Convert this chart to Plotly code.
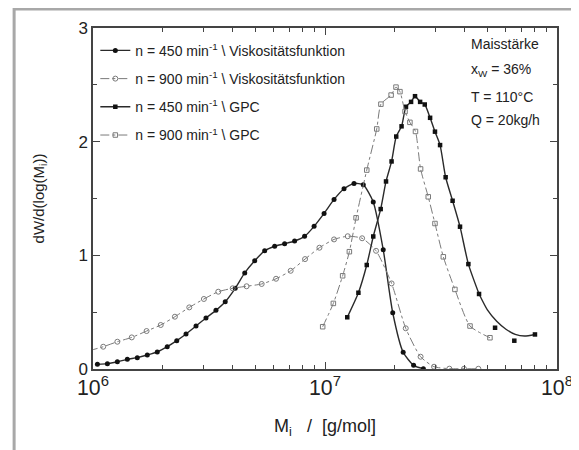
import plotly.graph_objects as go

# log10(M) and dW/dlog(M) values
visk450_logM = [6.019, 6.062, 6.105, 6.148, 6.191, 6.234, 6.277, 6.320, 6.361, 6.401, 6.444, 6.487,
                6.530, 6.570, 6.613, 6.654, 6.697, 6.740, 6.783, 6.826, 6.869, 6.912, 6.953, 6.996,
                7.039, 7.082, 7.125, 7.165, 7.208, 7.251, 7.292, 7.337, 7.382, 7.424]
visk450_w = [0.041, 0.047, 0.064, 0.085, 0.100, 0.123, 0.150, 0.196, 0.249, 0.308, 0.378, 0.449,
             0.516, 0.592, 0.710, 0.845, 0.952, 1.040, 1.080, 1.102, 1.126, 1.167, 1.255, 1.369,
             1.492, 1.586, 1.633, 1.620, 1.470, 1.050, 0.495, 0.147, 0.032, 0.003]

visk900_logM = [5.982, 6.044, 6.105, 6.167, 6.231, 6.292, 6.353, 6.415, 6.478, 6.540, 6.602, 6.662,
                6.727, 6.789, 6.852, 6.914, 6.976, 7.039, 7.098, 7.160, 7.220, 7.287, 7.348, 7.412,
                7.470, 7.536, 7.599, 7.661]
visk900_w = [0.160, 0.196, 0.240, 0.278, 0.334, 0.387, 0.460, 0.542, 0.616, 0.680, 0.710, 0.728,
             0.748, 0.794, 0.864, 0.967, 1.067, 1.140, 1.168, 1.150, 1.040, 0.753, 0.358, 0.108,
             0.020, 0.003, 0.002, 0.002]

# GPC, n = 450: measured points (last three lie off the fitted curve)
gpc450_logM = [7.096, 7.144, 7.180, 7.208, 7.240, 7.263, 7.287, 7.307, 7.330, 7.349, 7.371, 7.388,
               7.410, 7.430, 7.453, 7.474, 7.496, 7.520, 7.550, 7.582, 7.618, 7.664]
gpc450_w = [0.455, 0.671, 0.915, 1.166, 1.407, 1.650, 1.826, 2.045, 2.135, 2.307, 2.350, 2.400,
            2.350, 2.327, 2.210, 2.088, 1.970, 1.687, 1.480, 1.252, 0.923, 0.660]
gpc450_tail_logM = [7.733, 7.816, 7.905]
gpc450_tail_w = [0.363, 0.249, 0.304]
# fitted curve continuing beyond the last regular point
gpc450_fit_logM = [7.664, 7.700, 7.740, 7.780, 7.820, 7.860, 7.905]
gpc450_fit_w = [0.660, 0.520, 0.420, 0.350, 0.305, 0.290, 0.304]

gpc900_logM = [6.990, 7.036, 7.076, 7.105, 7.134, 7.180, 7.223, 7.241, 7.285, 7.306, 7.323, 7.345,
               7.366, 7.390, 7.412, 7.445, 7.474, 7.510, 7.560, 7.625, 7.711]
gpc900_w = [0.372, 0.577, 0.820, 1.032, 1.330, 1.750, 2.112, 2.330, 2.410, 2.480, 2.440, 2.265,
            2.170, 2.090, 1.760, 1.515, 1.280, 0.987, 0.700, 0.378, 0.275]

names = [
    "n = 450 min<sup>-1</sup> \\ Viskositätsfunktion",
    "n = 900 min<sup>-1</sup> \\ Viskositätsfunktion",
    "n = 450 min<sup>-1</sup> \\ GPC",
    "n = 900 min<sup>-1</sup> \\ GPC",
]
info_lines = ["Maisstärke", "x<sub>W</sub> = 36%", "T = 110°C", "Q = 20kg/h"]

FONT = "Liberation Sans, Arial, sans-serif"
SOLID = dict(color="#2a2a2a", width=1.4, shape="spline", smoothing=0.6)
DASHED = dict(color="#7a7a7a", width=1, dash="dashdot", shape="spline", smoothing=0.6)


def M(vals):
    return [10 ** v for v in vals]


fig = go.Figure()
fig.add_trace(go.Scatter(x=M(visk450_logM), y=visk450_w, name=names[0], legendgroup="a",
                         mode="lines+markers", line=SOLID,
                         marker=dict(symbol="circle", size=5, color="#111111")))
fig.add_trace(go.Scatter(x=M(visk900_logM), y=visk900_w, name=names[1], legendgroup="b",
                         mode="lines+markers", line=DASHED,
                         marker=dict(symbol="circle-open", size=5, color="#7a7a7a", line=dict(width=1))))
fig.add_trace(go.Scatter(x=M(gpc450_fit_logM), y=gpc450_fit_w, legendgroup="c", showlegend=False,
                         mode="lines", line=SOLID, hoverinfo="skip"))
fig.add_trace(go.Scatter(x=M(gpc450_tail_logM), y=gpc450_tail_w, legendgroup="c", showlegend=False,
                         mode="markers", marker=dict(symbol="square", size=4.5, color="#111111")))
fig.add_trace(go.Scatter(x=M(gpc450_logM), y=gpc450_w, name=names[2], legendgroup="c",
                         mode="lines+markers", line=SOLID,
                         marker=dict(symbol="square", size=4.5, color="#111111")))
fig.add_trace(go.Scatter(x=M(gpc900_logM), y=gpc900_w, name=names[3], legendgroup="d",
                         mode="lines+markers", line=DASHED,
                         marker=dict(symbol="square-open", size=4.5, color="#7a7a7a", line=dict(width=1))))

info_y = [0.953, 0.877, 0.798, 0.730]
for txt, yy in zip(info_lines, info_y):
    fig.add_annotation(xref="paper", yref="paper", x=0.81, y=yy, xanchor="left", yanchor="middle",
                       align="left", showarrow=False, text=txt,
                       font=dict(family=FONT, size=14, color="#222222"))

# outer grey frame
fig.add_shape(type="rect", xref="paper", yref="paper", x0=-0.170, x1=1.0366, y0=-0.28, y1=1.0557,
              line=dict(color="#a8a8a8", width=3), layer="below")

# the page body adds an 8px margin, so the figure is sized/offset to compensate
fig.update_layout(
    template="none",
    width=571, height=442,
    margin=dict(l=85, r=22, t=20, b=81, autoexpand=False),
    paper_bgcolor="white", plot_bgcolor="white",
    font=dict(family=FONT, color="#222222"),
    showlegend=True,
    legend=dict(x=0.005, y=0.98, xanchor="left", yanchor="top", bgcolor="rgba(0,0,0,0)",
                font=dict(family=FONT, size=14, color="#222222"), tracegroupgap=7,
                traceorder="grouped", itemwidth=30),
    xaxis=dict(type="log", range=[6, 8], showgrid=False, zeroline=False, automargin=False,
               showline=True, linecolor="#444444", linewidth=1.5, mirror="ticks",
               ticks="inside", ticklen=7, tickcolor="#444444", exponentformat="power",
               dtick=1, tickfont=dict(size=17, family=FONT, color="#222222"),
               minor=dict(ticks="inside", ticklen=4, tickcolor="#444444", showgrid=False),
               title=dict(text="M<sub>i</sub>   /  [g/mol]", font=dict(size=18, family=FONT), standoff=20)),
    yaxis=dict(range=[0, 3], showgrid=False, zeroline=False, automargin=False,
               showline=True, linecolor="#444444", linewidth=1.5, mirror="ticks",
               ticks="inside", ticklen=7, tickcolor="#444444", dtick=1,
               tickfont=dict(size=17, family=FONT, color="#222222"),
               minor=dict(ticks="inside", ticklen=4, tickcolor="#444444", dtick=0.5, showgrid=False),
               title=dict(text="dW/d(log(M<sub>i</sub>))", font=dict(size=15, family=FONT), standoff=30)),
)

fig.write_html("out.html")
